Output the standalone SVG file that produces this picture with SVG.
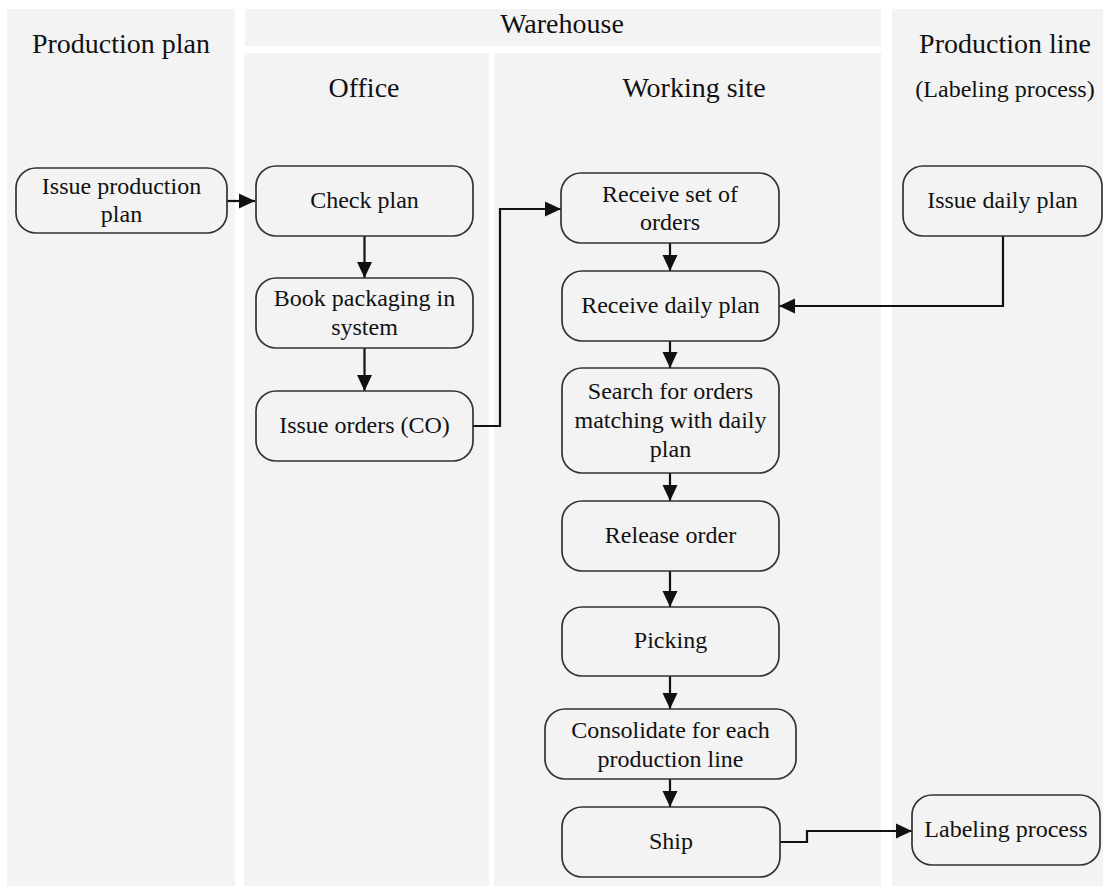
<svg xmlns="http://www.w3.org/2000/svg" width="1103" height="886" viewBox="0 0 1103 886">
  <style>
    .lane { fill: #f3f3f3; stroke: none; }
    .title { font-family: "Liberation Serif", "Times New Roman", serif; font-size: 28px; fill: #111; text-anchor: middle; }
    .sub { font-family: "Liberation Serif", "Times New Roman", serif; font-size: 24px; fill: #111; text-anchor: middle; }
    .node rect { fill: #f3f3f3; stroke: #333; stroke-width: 1.7; }
    .node text { font-family: "Liberation Serif", "Times New Roman", serif; font-size: 24px; fill: #111; text-anchor: middle; }
    .edge { fill: none; stroke: #111; stroke-width: 2.2; marker-end: url(#arrow); }
  </style>
  <defs>
    <marker id="arrow" markerUnits="userSpaceOnUse" markerWidth="17" markerHeight="16" refX="16" refY="8" orient="auto">
      <path d="M0,0.5 L16,8 L0,15.5 z" fill="#111"/>
    </marker>
  </defs>
  <rect width="1103" height="886" fill="#ffffff"/>

  <!-- swimlanes -->
  <g id="lanes">
    <rect class="lane" x="7" y="9" width="228" height="877"/>
    <rect class="lane" x="245" y="9" width="636" height="37"/>
    <rect class="lane" x="244" y="53" width="245" height="833"/>
    <rect class="lane" x="494" y="53" width="387" height="833"/>
    <rect class="lane" x="892" y="9" width="211" height="877"/>
    <text class="title" x="121" y="53">Production plan</text>
    <text class="title" x="562" y="33">Warehouse</text>
    <text class="title" x="364" y="97">Office</text>
    <text class="title" x="694" y="97">Working site</text>
    <text class="title" x="1005" y="53">Production line</text>
    <text class="sub" x="1005" y="97">(Labeling process)</text>
  </g>

  <!-- connectors -->
  <g id="connectors">
    <path class="edge" d="M227,201 H255"/>
    <path class="edge" d="M364.5,236 V278"/>
    <path class="edge" d="M364.5,348 V391"/>
    <path class="edge" d="M473,426 H500 V209 H561"/>
    <path class="edge" d="M670,243 V271"/>
    <path class="edge" d="M1003,236 V306 H779"/>
    <path class="edge" d="M670,341 V368"/>
    <path class="edge" d="M670,473 V501"/>
    <path class="edge" d="M670,571 V607"/>
    <path class="edge" d="M670,676 V709"/>
    <path class="edge" d="M670,779 V807"/>
    <path class="edge" d="M780,842 H807 V831 H912"/>
  </g>

  <g id="issue-production-plan" class="node">
    <rect x="16" y="168" width="211" height="65" rx="20"/>
    <text x="121.5" y="194">Issue production</text>
    <text x="121.5" y="222">plan</text>
  </g>
  <g id="check-plan" class="node">
    <rect x="256" y="166" width="217" height="70" rx="20"/>
    <text x="364.5" y="208">Check plan</text>
  </g>
  <g id="book-packaging" class="node">
    <rect x="256" y="278" width="217" height="70" rx="20"/>
    <text x="364.5" y="306">Book packaging in</text>
    <text x="364.5" y="335">system</text>
  </g>
  <g id="issue-orders" class="node">
    <rect x="256" y="391" width="217" height="70" rx="20"/>
    <text x="364.5" y="433">Issue orders (CO)</text>
  </g>
  <g id="receive-set-of-orders" class="node">
    <rect x="561" y="173" width="218" height="70" rx="20"/>
    <text x="670" y="202">Receive set of</text>
    <text x="670" y="230">orders</text>
  </g>
  <g id="issue-daily-plan" class="node">
    <rect x="903" y="166" width="199" height="70" rx="20"/>
    <text x="1002.5" y="208">Issue daily plan</text>
  </g>
  <g id="receive-daily-plan" class="node">
    <rect x="562" y="271" width="217" height="70" rx="20"/>
    <text x="670.5" y="313">Receive daily plan</text>
  </g>
  <g id="search-orders" class="node">
    <rect x="562" y="368" width="217" height="105" rx="20"/>
    <text x="670.5" y="399">Search for orders</text>
    <text x="670.5" y="428">matching with daily</text>
    <text x="670.5" y="457">plan</text>
  </g>
  <g id="release-order" class="node">
    <rect x="562" y="501" width="217" height="70" rx="20"/>
    <text x="670.5" y="543">Release order</text>
  </g>
  <g id="picking" class="node">
    <rect x="562" y="607" width="217" height="69" rx="20"/>
    <text x="670.5" y="648">Picking</text>
  </g>
  <g id="consolidate" class="node">
    <rect x="545" y="709" width="251" height="70" rx="20"/>
    <text x="670.5" y="738">Consolidate for each</text>
    <text x="670.5" y="767">production line</text>
  </g>
  <g id="ship" class="node">
    <rect x="562" y="807" width="218" height="70" rx="20"/>
    <text x="671" y="849">Ship</text>
  </g>
  <g id="labeling-process" class="node">
    <rect x="912" y="795" width="188" height="70" rx="20"/>
    <text x="1006" y="837">Labeling process</text>
  </g>
</svg>
